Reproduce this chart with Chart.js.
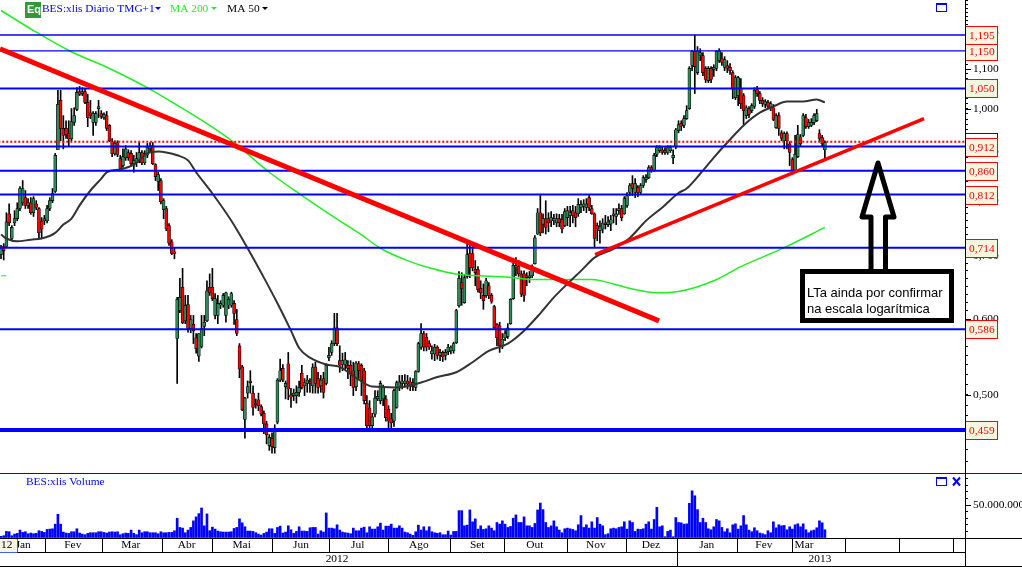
<!DOCTYPE html>
<html>
<head>
<meta charset="utf-8">
<title>BES:xlis</title>
<script src="https://cdn.jsdelivr.net/npm/chart.js@4"></script>
<style>
  html, body { margin: 0; padding: 0; background: #fff; overflow: hidden; }
  canvas { display: block; }
</style>
</head>
<body>
<canvas id="chart" width="1022" height="567"></canvas>
<script>
// CANDLES (one entry per trading day, Jan 2012 - Mar 2013)

const opens = [
  .702,.716,.716,.775,.730,.758,.766,.785,.796,.806,
  .791,.796,.777,.794,.785,.762,.762,.762,.785,.800,
  .818,.905,1.020,.953,.953,.941,.929,.967,.998,1.042,
  1.037,1.042,1.015,.990,.967,.967,1.000,.988,.978,.983,
  .960,.923,.896,.921,.886,.871,.888,.899,.897,.875,
  .877,.882,.899,.877,.893,.907,.914,.873,.838,.840,
  .783,.785,.753,.724,.707,.573,.613,.649,.598,.622,
  .587,.593,.574,.549,.562,.590,.598,.649,.649,.606,
  .606,.621,.621,.606,.621,.621,.624,.600,.563,.535,
  .471,.502,.517,.502,.490,.494,.486,.478,.466,.442,
  .450,.440,.468,.518,.533,.510,.539,.500,.499,.499,
  .503,.527,.511,.514,.516,.511,.535,.520,.511,.520,
  .514,.547,.554,.566,.588,.543,.538,.538,.537,.537,
  .530,.510,.539,.537,.530,.490,.484,.464,.477,.495,
  .493,.495,.495,.483,.472,.469,.485,.509,.514,.514,
  .517,.516,.515,.509,.529,.561,.580,.575,.566,.552,
  .552,.561,.550,.554,.550,.555,.556,.556,.567,.620,
  .656,.625,.666,.704,.704,.678,.677,.647,.636,.636,
  .651,.636,.619,.593,.591,.562,.574,.576,.594,.631,
  .684,.682,.670,.670,.667,.664,.667,.687,.738,.777,
  .756,.766,.766,.762,.762,.758,.766,.764,.753,.768,
  .772,.781,.777,.775,.787,.789,.787,.806,.785,.775,
  .753,.744,.747,.758,.755,.756,.772,.770,.781,.785,
  .775,.791,.816,.834,.816,.826,.816,.830,.842,.846,
  .867,.861,.895,.903,.905,.903,.899,.903,.888,.912,
  .948,.965,.960,.976,1.000,1.110,1.149,1.091,1.137,1.137,
  1.102,1.070,1.102,1.099,1.102,1.123,1.129,1.105,1.110,1.105,
  1.091,1.027,1.032,1.050,1.032,.983,1.000,.995,1.005,1.047,
  1.037,1.020,1.010,1.015,1.002,1.002,.955,.983,.943,.925,
  .941,.918,.884,.861,.890,.934,.937,.978,.957,.960,
  .967,.971,.941,.932,.905
];

const highs = [
  .718,.721,.777,.794,.753,.781,.796,.828,.840,.820,
  .804,.806,.808,.800,.787,.768,.772,.791,.806,.824,
  .897,1.045,1.045,.983,.971,.971,1.000,1.002,1.052,1.055,
  1.052,1.050,1.035,1.020,.993,.993,1.020,.995,.990,.993,
  .962,.930,.925,.925,.893,.907,.914,.905,.903,.893,
  .899,.921,.903,.903,.919,.921,.921,.875,.857,.844,
  .804,.789,.757,.728,.713,.633,.663,.679,.636,.636,
  .606,.606,.580,.580,.606,.606,.659,.670,.679,.639,
  .636,.628,.639,.641,.634,.641,.628,.615,.566,.537,
  .497,.517,.530,.511,.495,.502,.488,.481,.469,.454,
  .456,.465,.520,.545,.538,.517,.554,.508,.507,.511,
  .517,.537,.520,.524,.520,.539,.541,.528,.524,.528,
  .539,.561,.570,.609,.609,.563,.553,.554,.543,.543,
  .541,.542,.542,.539,.533,.499,.493,.478,.505,.505,
  .517,.512,.499,.487,.478,.507,.517,.524,.524,.525,
  .524,.521,.520,.530,.568,.594,.583,.580,.570,.563,
  .565,.563,.558,.556,.558,.565,.563,.568,.615,.674,
  .672,.669,.721,.718,.716,.692,.682,.659,.654,.663,
  .656,.639,.621,.594,.596,.580,.584,.594,.631,.696,
  .697,.692,.675,.675,.672,.674,.685,.735,.785,.810,
  .775,.800,.777,.779,.774,.775,.774,.774,.785,.789,
  .789,.791,.789,.804,.800,.802,.804,.810,.791,.777,
  .758,.762,.766,.772,.770,.772,.785,.785,.794,.791,
  .808,.816,.834,.850,.844,.830,.834,.850,.852,.871,
  .871,.897,.914,.914,.912,.910,.914,.914,.905,.953,
  .971,.971,.983,1.007,1.107,1.151,1.195,1.162,1.156,1.145,
  1.107,1.107,1.107,1.112,1.151,1.156,1.145,1.134,1.123,1.115,
  1.096,1.083,1.081,1.075,1.037,1.007,1.005,1.012,1.052,1.055,
  1.042,1.027,1.022,1.020,1.017,1.010,.988,.990,.948,.945,
  .945,.923,.888,.937,.960,.939,.988,.986,.974,.976,
  .988,.998,.950,.937,.925
];

const lows = [
  .695,.693,.714,.753,.726,.753,.762,.781,.791,.785,
  .785,.774,.770,.783,.731,.730,.755,.758,.781,.796,
  .816,.905,.925,.907,.930,.912,.925,.960,.995,1.032,
  1.032,1.012,.957,.976,.937,.960,.978,.976,.974,.948,
  .923,.890,.893,.890,.861,.867,.882,.882,.871,.857,
  .869,.877,.873,.873,.888,.899,.873,.840,.820,.794,
  .766,.744,.718,.702,.695,.514,.610,.594,.594,.582,
  .581,.566,.553,.542,.560,.577,.597,.636,.628,.601,
  .594,.616,.618,.596,.616,.618,.593,.577,.521,.481,
  .450,.496,.502,.476,.484,.481,.475,.455,.444,.437,
  .434,.434,.466,.516,.516,.495,.494,.485,.493,.490,
  .498,.507,.499,.503,.503,.502,.502,.502,.503,.496,
  .512,.543,.550,.563,.563,.528,.530,.532,.520,.511,
  .499,.505,.520,.499,.489,.461,.461,.461,.474,.493,
  .489,.487,.469,.461,.461,.463,.484,.505,.507,.509,
  .507,.505,.505,.505,.528,.558,.556,.556,.558,.545,
  .543,.545,.543,.542,.544,.551,.552,.553,.566,.618,
  .621,.624,.663,.664,.675,.651,.641,.631,.615,.633,
  .631,.624,.586,.563,.554,.559,.570,.573,.593,.630,
  .667,.666,.634,.627,.651,.656,.664,.686,.737,.735,
  .740,.738,.742,.751,.755,.751,.751,.740,.751,.753,
  .751,.758,.751,.770,.777,.781,.777,.781,.774,.714,
  .726,.722,.740,.747,.751,.744,.758,.755,.774,.762,
  .774,.787,.810,.810,.806,.808,.812,.826,.836,.844,
  .857,.859,.890,.899,.895,.895,.895,.899,.875,.907,
  .943,.948,.955,.974,.998,1.096,1.037,1.086,1.123,1.083,
  1.065,1.065,1.065,1.081,1.096,1.118,1.110,1.096,1.091,1.086,
  1.024,1.022,1.007,1.000,.962,.976,.978,.990,1.000,1.030,
  1.012,1.005,1.002,1.000,.995,.971,.953,.937,.925,.907,
  .907,.871,.857,.859,.888,.912,.934,.953,.953,.957,
  .962,.969,.923,.912,.886
];

const closes = [
  .713,.709,.760,.758,.750,.766,.785,.824,.824,.791,
  .796,.777,.804,.787,.740,.747,.766,.785,.800,.814,
  .893,1.010,.953,.937,.939,.929,.969,.983,1.040,1.035,
  1.042,1.015,.978,.983,.988,.988,1.005,.981,.986,.953,
  .925,.896,.919,.895,.865,.890,.907,.888,.875,.882,
  .886,.899,.877,.897,.910,.912,.875,.848,.852,.798,
  .800,.747,.722,.704,.704,.630,.633,.595,.621,.587,
  .600,.584,.559,.580,.587,.596,.643,.640,.631,.631,
  .624,.624,.636,.640,.630,.639,.609,.580,.532,.482,
  .496,.510,.515,.485,.488,.487,.477,.466,.454,.451,
  .441,.460,.518,.530,.518,.514,.507,.497,.502,.503,
  .509,.509,.515,.518,.514,.534,.514,.509,.518,.503,
  .537,.550,.566,.588,.566,.537,.543,.544,.533,.526,
  .509,.540,.530,.517,.493,.464,.464,.474,.496,.498,
  .514,.509,.473,.469,.467,.505,.515,.516,.517,.517,
  .513,.511,.510,.529,.566,.580,.561,.561,.561,.556,
  .561,.550,.554,.548,.554,.561,.561,.566,.613,.663,
  .646,.664,.702,.680,.680,.672,.645,.640,.628,.659,
  .636,.627,.588,.574,.563,.572,.580,.588,.630,.684,
  .680,.670,.638,.636,.664,.667,.682,.731,.777,.740,
  .766,.750,.758,.768,.766,.766,.758,.747,.779,.781,
  .777,.772,.768,.793,.793,.794,.794,.787,.775,.730,
  .747,.751,.758,.755,.760,.764,.775,.775,.785,.768,
  .804,.810,.830,.824,.834,.816,.830,.846,.846,.867,
  .861,.893,.910,.910,.899,.899,.910,.910,.893,.950,
  .962,.958,.976,.995,1.102,1.149,1.107,1.149,1.145,1.091,
  1.073,1.102,1.073,1.105,1.149,1.149,1.118,1.126,1.102,1.096,
  1.048,1.078,1.078,1.012,.995,1.002,.986,1.007,1.045,1.037,
  1.020,1.012,1.017,1.005,1.012,.974,.983,.953,.930,.941,
  .925,.899,.861,.895,.939,.918,.983,.957,.967,.967,
  .983,.988,.930,.918,.921
];

// VOLUME (millions)

const volumes = [
  2.5,3.5,10,9.5,3.5,6,7,12,8.5,9.5,
  6.5,7.5,6.5,7,11,10,8.5,13,13.5,14,
  21,36,21,9,7.5,7,9.5,9.5,14,7.5,
  6,5,7,8,8,8,9.5,9.5,8.5,7.5,
  9,9.5,9,9.5,5,6.5,7.5,7,12,7,
  5,12,8,9.5,9.5,8,8,8,6.5,9.5,
  8,8,8.5,8.5,11,30,16,15,8,12,
  16,26,32,37,45.5,18.5,36.5,11,16.5,13.5,
  10.5,9.5,9,9,9,9.5,14.5,16,29,23,
  17,10.5,10.5,10,8,6,4.5,7,9,14,
  14,7,16,18,7.5,9,18.5,12.5,7,10,
  17,10.5,10.5,10,15.5,16,16,6,11,9,
  38,15,15,14,20,12,9,8,7.5,6.5,
  15,11,11,15,16.5,8,17,13.5,13.5,17,
  22.5,12,18,18,21,15,15,18.5,15,9,
  8,6,4,9.5,19.5,12,17,11,17,9.5,
  8,7,8,5,5,10.5,4.5,10,10,41.5,
  41.5,18.5,19.5,42.5,24.5,29,13.5,18.5,13,14,
  18.5,15,11,23.5,21,26,21,16,17.5,30,
  35,23.5,23.5,32,18.5,18.5,16,22,42.5,53,
  43,23.5,16,18.5,26,17,12,8,14,15,
  14,13,11,20,34,16,20,15,24.5,15,
  31,21,18.5,5,6.5,14,15,14,16,17,
  24.5,13.5,26,23.5,10,13.5,13,14,21,24.5,
  13.5,28,46.5,17,18.5,2,10,12,2,31,
  23.5,23,21,21.5,52.5,71.5,64,43,23.5,30,
  23.5,14,12.5,17,28,26,16,9.5,14,8,
  20,21.5,13.5,18.5,34,20,12,9.5,15.5,11,
  7.5,6.5,5,11,8,24.5,15.5,20,18.5,19,
  12.5,17,13.5,20,21.5,17,21.5,12.5,8,11,
  12,15.5,26,23,12.5
];

// MOVING AVERAGES (read at the day numbers listed)

const ma50Days = [0,2,6,11,15,20,23,26,29,33,37,39,44,49,54,58,61,65,69,72,78,85,91,97,102,107,110,114,120,125,131,137,146,155,161,168,174,180,187,193,199,204,209,214,219,226,232,238,244,250,253,258,263,268,274,280,285,290,296,301,304];
const ma50Values = [.737,.730,.725,.728,.730,.740,.755,.766,.791,.820,.844,.857,.863,.873,.897,.901,.899,.893,.882,.857,.814,.762,.713,.664,.624,.584,.560,.547,.538,.535,.521,.510,.509,.515,.522,.528,.541,.556,.566,.584,.609,.633,.654,.675,.697,.712,.731,.762,.787,.815,.824,.854,.888,.921,.960,.990,1.005,1.017,1.017,1.022,1.015];

const ma200Days = [0,12,25,40,54,62,77,86,99,110,125,132,140,150,159,168,177,189,196,206,218,226,233,242,250,263,273,289,304];
const ma200Values = [1.268,1.208,1.151,1.102,1.052,1.020,.960,.921,.857,.814,.762,.740,.713,.692,.679,.670,.667,.664,.661,.661,.661,.654,.646,.640,.642,.659,.682,.714,.750];

const ma200StubDays = [0,2];
const ma200StubValues = [.667,.667];

// LEVELS AND TREND LINES

const levels = [1.195, 1.15, 1.05, 0.912, 0.86, 0.812, 0.714, 0.586, 0.459];
const levelWidths = [1.4, 1.4, 2, 2, 2, 2, 2, 2, 4];
const lastPrice = 0.923;

const trendDownDays = [-0.37, 242.8];
const trendDownValues = [1.156, 0.598];
const trendUpDays = [219.2, 340.6];
const trendUpValues = [0.702, 0.976];

// AXES

const priceLabels = [0.5, 0.6, 0.7, 0.8, 0.9, 1.0, 1.1, 1.2];
const volumeLabels = [50];

const monthNames = ["Jan","Fev","Mar","Abr","Mai","Jun","Jul","Ago","Set","Out","Nov","Dez","Jan","Fev","Mar"];
const monthCenters = [8.2,26.5,47.9,68.5,88.8,110.7,131.6,154.2,175.7,197,219.5,239.8,260.4,281.5,296.3];
const monthEnds = [6,16.3,37.4,59.3,78,100.1,121.1,142.9,165.8,185.6,208.7,230.7,249.6,271.7,291.8,311.5,331.5,351.4];
const yearNames = ["2012","2013"];
const yearCenters = [124,302.2];
const yearEnds = [249.6];


const serif = '"Liberation Serif"';
const textSize = 11.4;
const blue = "#0000ff";
const lime = "#22ee22";

function pairs(days, values) {
  return days.map((d, i) => ({ x: d, y: values[i] }));
}

const lineSets = [];

levels.forEach((lv, i) => {
  lineSets.push({
    type: "line",
    data: [{ x: -1, y: lv }, { x: 356, y: lv }],
    borderColor: blue,
    borderWidth: levelWidths[i],
    pointRadius: 0,
    order: 3
  });
});

lineSets.push({
  type: "line",
  data: [{ x: -1, y: lastPrice }, { x: 356, y: lastPrice }],
  borderColor: "#ff0000",
  borderWidth: 2,
  borderDash: [2, 2],
  pointRadius: 0,
  order: 2
});

const chart = new Chart(document.getElementById("chart"), {
  type: "bar",
  data: {
    datasets: [
      {
        // wicks
        data: highs.map((h, i) => ({ x: i, y: [lows[i], h] })),
        backgroundColor: "#000",
        barThickness: 1,
        grouped: false,
        order: 7
      },
      {
        // bodies
        data: opens.map((o, i) => ({ x: i, y: [o, closes[i]] })),
        backgroundColor: opens.map((o, i) => closes[i] >= o ? "#2e8b57" : "#ff0000"),
        borderColor: "#000",
        borderWidth: 0.7,
        borderSkipped: false,
        barThickness: 3,
        grouped: false,
        order: 6
      },
      {
        data: volumes.map((v, i) => ({ x: i, y: v })),
        yAxisID: "yVol",
        backgroundColor: blue,
        barThickness: 2,
        grouped: false,
        order: 8
      },
      {
        type: "line",
        data: pairs(ma50Days, ma50Values),
        borderColor: "#333",
        borderWidth: 2,
        cubicInterpolationMode: "monotone",
        pointRadius: 0,
        order: 5
      },
      {
        type: "line",
        data: pairs(ma200Days, ma200Values),
        borderColor: lime,
        borderWidth: 1.5,
        cubicInterpolationMode: "monotone",
        pointRadius: 0,
        order: 5
      },
      {
        type: "line",
        data: pairs(ma200StubDays, ma200StubValues),
        borderColor: lime,
        borderWidth: 1,
        pointRadius: 0,
        order: 5
      },
      ...lineSets,
      {
        type: "line",
        data: pairs(trendDownDays, trendDownValues),
        borderColor: "#ff0000",
        borderWidth: 5,
        pointRadius: 0,
        order: 1
      },
      {
        type: "line",
        data: pairs(trendUpDays, trendUpValues),
        borderColor: "#ff0000",
        borderWidth: 3.5,
        pointRadius: 0,
        order: 1
      }
    ]
  },
  options: {
    responsive: false,
    animation: false,
    devicePixelRatio: 1,
    layout: { padding: { left: 0, top: 0, right: 0, bottom: 29 } },
    plugins: { legend: { display: false }, tooltip: { enabled: false } },
    scales: {
      x: {
        type: "linear",
        display: false,
        offset: false,
        min: -0.369,
        max: 355.7
      },
      y: {
        type: "logarithmic",
        position: "right",
        stack: "panes",
        stackWeight: 473,
        min: 0.4137,
        max: 1.3007,
        grid: { drawOnChartArea: false, tickLength: 3, color: "#000" },
        border: { color: "#000" },
        ticks: {
          autoSkip: false,
          padding: 5,
          color: "#000",
          font: { family: serif, size: textSize },
          callback: v => priceLabels.some(p => Math.abs(p - v) < 1e-6) ? v.toFixed(3).replace(".", ",") : ""
        },
        afterBuildTicks: s => {
          // minor marks every 0,0125
          const t = [];
          for (let k = 34; k <= 104; k++) t.push({ value: k * 0.0125 });
          s.ticks = t;
        },
        afterFit: s => { s.width = 57; s.paddingTop = 0; s.paddingBottom = 0; }
      },
      yVol: {
        type: "linear",
        position: "right",
        stack: "panes",
        stackWeight: 65,
        min: 0,
        max: 98.5,
        grid: { drawOnChartArea: false, tickLength: 3, color: "#000" },
        border: { color: "#000" },
        ticks: {
          autoSkip: false,
          padding: 5,
          color: "#000",
          font: { family: serif, size: textSize },
          callback: v => volumeLabels.includes(v) ? v + ".000.000" : ""
        },
        afterBuildTicks: s => {
          const t = [];
          for (let k = 0; k <= 9; k++) t.push({ value: k * 10 });
          s.ticks = t;
        },
        afterFit: s => { s.width = 57; s.paddingTop = 0; s.paddingBottom = 0; }
      }
    }
  },
  plugins: [{
    id: "chrome",
    afterDraw(c) {
      const ctx = c.ctx;
      const x = c.scales.x;
      const y = c.scales.y;
      const yVol = c.scales.yVol;
      ctx.save();

      // LONGER MARKS AT THE LABELLED TICKS
      ctx.strokeStyle = "#000";
      ctx.lineWidth = 1;
      ctx.beginPath();
      priceLabels.forEach(p => {
        const py = Math.round(y.getPixelForValue(p)) + 0.5;
        ctx.moveTo(965, py);
        ctx.lineTo(971, py);
      });
      volumeLabels.forEach(v => {
        const py = Math.round(yVol.getPixelForValue(v)) + 0.5;
        ctx.moveTo(965, py);
        ctx.lineTo(971, py);
      });
      ctx.stroke();

      // PRICE BOXES
      ctx.font = textSize + "px " + serif;
      ctx.textBaseline = "middle";
      ctx.textAlign = "left";

      const yLast = y.getPixelForValue(lastPrice);
      ctx.fillStyle = "#fff";
      ctx.strokeStyle = blue;
      ctx.fillRect(965, yLast - 9, 32, 18);
      ctx.strokeRect(965.5, Math.round(yLast - 9) + 0.5, 32, 18);
      ctx.fillStyle = blue;
      ctx.fillText(lastPrice.toFixed(3).replace(".", ","), 969, yLast);

      [...levels].reverse().forEach(lv => {
        const py = Math.round(y.getPixelForValue(lv));
        ctx.fillStyle = "#f5f5e0";
        ctx.fillRect(965, py - 9, 32, 18);
        ctx.strokeStyle = "#ff0000";
        ctx.lineWidth = 1;
        ctx.strokeRect(965.5, py - 8.5, 32, 18);
        ctx.fillStyle = "#ff0000";
        ctx.fillText(lv.toFixed(3).replace(".", ","), 969, py + 1);
      });

      // ARROW
      ctx.strokeStyle = "#000";
      ctx.lineWidth = 5;
      ctx.lineJoin = "round";
      ctx.beginPath();
      ctx.moveTo(871, 270);
      ctx.lineTo(871, 217);
      ctx.lineTo(862, 217);
      ctx.lineTo(878, 163);
      ctx.lineTo(894, 217);
      ctx.lineTo(885.5, 217);
      ctx.lineTo(885.5, 270);
      ctx.stroke();

      // NOTE BOX
      ctx.fillStyle = "#fff";
      ctx.fillRect(800, 269, 154, 54);
      ctx.lineWidth = 5;
      ctx.lineJoin = "miter";
      ctx.strokeRect(802.5, 271.5, 149, 49);
      ctx.fillStyle = "#000";
      ctx.font = '13px "Liberation Sans"';
      ctx.textBaseline = "alphabetic";
      ctx.fillText("LTa ainda por confirmar", 807, 297);
      ctx.fillText("na escala logarítmica", 807, 313);

      // PANE LINES
      ctx.lineWidth = 1;
      ctx.strokeStyle = blue;
      ctx.beginPath();
      ctx.moveTo(0, 473.5);
      ctx.lineTo(1022, 473.5);
      ctx.stroke();

      // HEADER
      ctx.textBaseline = "middle";
      ctx.fillStyle = "#2f9a3c";
      ctx.fillRect(25, 2, 16, 16);
      ctx.fillStyle = "#fff";
      ctx.font = 'bold 11px "Liberation Sans"';
      ctx.fillText("Eq", 27, 10);

      const tri = (tx, color) => {
        ctx.fillStyle = color;
        ctx.beginPath();
        ctx.moveTo(tx, 7);
        ctx.lineTo(tx + 6, 7);
        ctx.lineTo(tx + 3, 10);
        ctx.fill();
      };

      ctx.font = textSize + "px " + serif;
      ctx.fillStyle = blue;
      ctx.fillText("BES:xlis Diário TMG+1", 42, 9);
      tri(155, blue);
      ctx.fillStyle = lime;
      ctx.fillText("MA 200", 170, 9);
      tri(211, lime);
      ctx.fillStyle = "#000";
      ctx.fillText("MA 50", 227, 9);
      tri(262, "#000");

      ctx.fillStyle = blue;
      ctx.fillText("BES:xlis Volume", 26, 482);

      // WINDOW ICONS
      ctx.strokeStyle = blue;
      ctx.lineWidth = 1;
      ctx.strokeRect(936.5, 4.5, 10, 7);
      ctx.fillRect(936, 3, 11, 2);
      ctx.strokeRect(936.5, 478.5, 10, 7);
      ctx.fillRect(936, 477, 11, 2);
      ctx.lineWidth = 2;
      ctx.beginPath();
      ctx.moveTo(953, 477.5);
      ctx.lineTo(960, 485.5);
      ctx.moveTo(960, 477.5);
      ctx.lineTo(953, 485.5);
      ctx.stroke();

      // DATE ROWS
      ctx.lineWidth = 1;
      ctx.strokeStyle = "#000";
      ctx.fillStyle = "#000";
      ctx.textAlign = "center";
      monthNames.forEach((m, i) => {
        ctx.fillText(m, x.getPixelForValue(monthCenters[i]), 545);
      });
      yearNames.forEach((m, i) => {
        ctx.fillText(m, x.getPixelForValue(yearCenters[i]), 559);
      });

      ctx.beginPath();
      monthEnds.forEach(d => {
        const px = Math.round(x.getPixelForValue(d)) + 0.5;
        ctx.moveTo(px, 538);
        ctx.lineTo(px, 552);
      });
      yearEnds.forEach(d => {
        const px = Math.round(x.getPixelForValue(d)) + 0.5;
        ctx.moveTo(px, 552);
        ctx.lineTo(px, 566);
      });
      ctx.moveTo(0, 538.5);
      ctx.lineTo(1022, 538.5);
      ctx.moveTo(0, 552.5);
      ctx.lineTo(965, 552.5);
      ctx.moveTo(0, 566.5);
      ctx.lineTo(1022, 566.5);
      ctx.moveTo(965.5, 0);
      ctx.lineTo(965.5, 567);
      ctx.stroke();

      // first cell of the month row
      ctx.fillStyle = "#f5f5e0";
      ctx.fillRect(0, 539, 17, 13);
      ctx.strokeStyle = "#4060ff";
      ctx.beginPath();
      ctx.moveTo(17.5, 539);
      ctx.lineTo(17.5, 552);
      ctx.moveTo(0, 552.5);
      ctx.lineTo(17.5, 552.5);
      ctx.stroke();
      ctx.fillStyle = "#000";
      ctx.textAlign = "left";
      ctx.fillText("12", 1, 545);

      ctx.restore();
    }
  }]
});
</script>
</body>
</html>
